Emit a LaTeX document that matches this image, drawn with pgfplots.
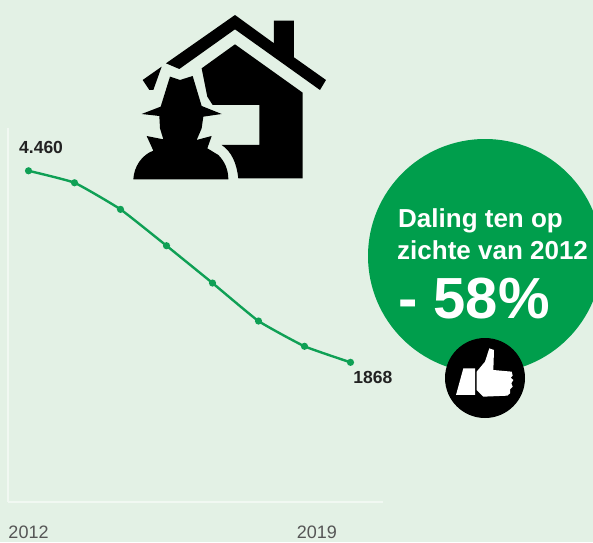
\documentclass[border=0pt]{standalone}
\usepackage{fontspec}
\setmainfont{Liberation Sans}
\usepackage{pgfplots}
\pgfplotsset{compat=1.18}
\definecolor{bgc}{HTML}{E3F1E5}
\definecolor{grn}{HTML}{009E4C}
\definecolor{linec}{HTML}{0FA055}
\definecolor{axc}{HTML}{F1F8F2}
\definecolor{txt}{HTML}{222222}
\definecolor{tick}{HTML}{555555}
\begin{document}
\begin{tikzpicture}[x=1pt,y=1pt]
\useasboundingbox (0,0) rectangle (593,542);
\fill[bgc] (0,0) rectangle (593,542);
\begin{scope}
\clip (0,0) rectangle (593,542);
\fill[grn] (485,286) circle (117);
\end{scope}
\begin{axis}[
  at={(8pt,40pt)}, anchor=south west,
  scale only axis, width=375pt, height=374pt,
  xmin=2011.554, xmax=2019.707, ymin=-22, ymax=5039,
  axis x line=bottom, axis y line=left,
  axis line style={-,draw=axc,line width=1.6pt},
  xtick={2012,2018.27}, xticklabels={2012,2019},
  ytick=\empty,
  major tick length=0pt,
  tick style={draw=none},
  x tick label style={font=\fontsize{18}{18}\selectfont, text=tick, anchor=base, yshift=-36pt},
  clip=false,
]
\addplot[color=linec, line width=2.4pt, mark=*, mark size=2.3pt, mark options={fill=linec,draw=linec}, smooth, tension=0.25]
coordinates {(2012,4460)(2013,4298)(2014,3938)(2015,3446)(2016,2941)(2017,2427)(2018,2085)(2019,1868)};
\node[anchor=base west, inner sep=0pt, text=txt, font=\fontsize{17.5}{18}\bfseries\selectfont] at (axis cs:2011.793,4700) {4.460};
\node[anchor=base west, inner sep=0pt, text=txt, font=\fontsize{17.5}{18}\bfseries\selectfont] at (axis cs:2019.06,1580) {1868};
\end{axis}
% text in the circle
\node[anchor=base west, inner sep=0pt, text=white, font=\fontsize{26}{27}\bfseries\selectfont] at (398,315) {Daling ten op};
\node[anchor=base west, inner sep=0pt, text=white, font=\fontsize{26}{27}\bfseries\selectfont] at (397,283) {zichte van 2012};
\node[anchor=base west, inner sep=0pt, text=white, font=\fontsize{58}{60}\bfseries\selectfont] at (398,224) {- 58\%};
% house icon (zoomed crop coordinates)
\begin{scope}[shift={(120,542)},x=0.3333pt,y=-0.3333pt]
\fill[black] (345,45)--(462,130)--(462,62)--(522,62)--(522,172)--(618,240)--(600,270)--(345,88)--(178,207)--(138,190)--cycle;
\fill[black] (68,240)--(125,200)--(100,270)--(88,270)--cycle;
\fill[black] (345,133)--(548,278)--(548,535)--(355,535) .. controls (350,490) and (335,455) .. (305,435)--(418,435)--(418,315)--(278,315)--(262,290)--(245,205)--cycle;
\fill[black] (150,230)--(180,240)--(218,228)--(245,318)--(305,342)--(250,350)--(245,385)--(230,420)--(275,408)--(262,445)--(295,465) .. controls (315,485) and (325,510) .. (325,538)--(40,538) .. controls (42,500) and (65,465) .. (100,452)--(80,408)--(130,418)--(120,385)--(118,348)--(65,342)--(122,320)--cycle;
\end{scope}
% thumb badge
\fill[black] (485,164) circle (40);
\begin{scope}[shift={(430,542-330)},x=0.3333pt,y=-0.3333pt]
\fill[white] (100,115)--(135,115)--(135,195)--(78,195)--cycle;
\fill[white] (140,125)--(165,95)--(178,55)--(192,60)--(190,120)--(245,125)--(248,137)--(242,143)--(250,150)--(244,160)--(248,170)--(240,178)--(240,190)--(232,197)--(160,200)--(140,180)--cycle;
\end{scope}
\end{tikzpicture}
\end{document}
